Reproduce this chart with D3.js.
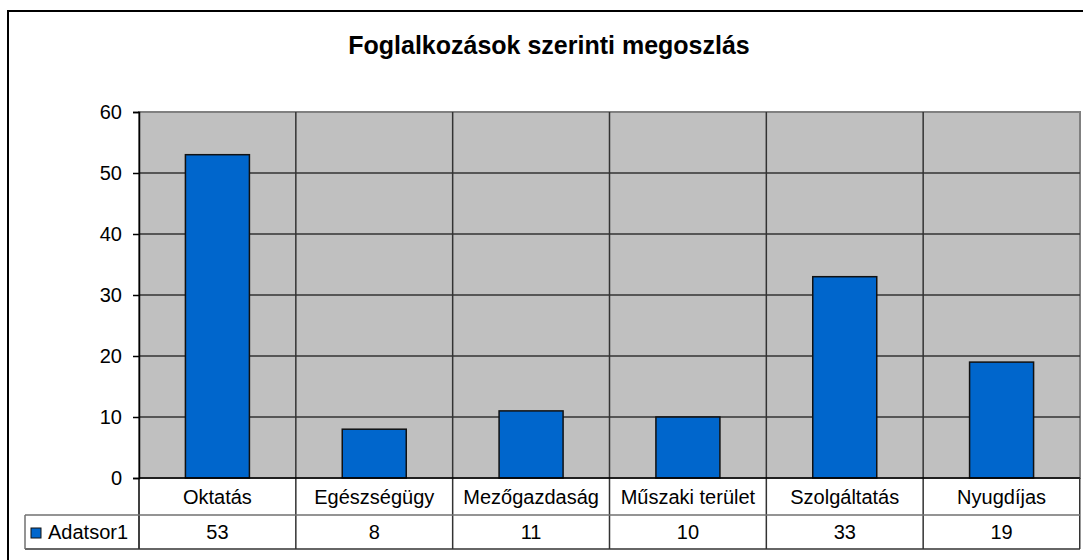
<!DOCTYPE html>
<html>
<head>
<meta charset="utf-8">
<script src="https://d3js.org/d3.v7.min.js"></script>
<style>
  body { margin: 0; background: #fff; }
  text { font-family: "Liberation Sans", Arial, sans-serif; }
</style>
</head>
<body>
<div id="chart"></div>
<script>
// data
var categories = ["Oktatás", "Egészségügy", "Mezőgazdaság", "Műszaki terület", "Szolgáltatás", "Nyugdíjas"];
var values = [53, 8, 11, 10, 33, 19];
var seriesName = "Adatsor1";
var yTicks = [0, 10, 20, 30, 40, 50, 60];

var W = 1083, H = 560;
var plot = {left: 139, top: 112, right: 1080, bottom: 478};
var row1 = 515, row2 = 549, tableLeft = 25;
var fs = "20px";

var svg = d3.select("#chart").append("svg")
    .attr("width", W)
    .attr("height", H);

// outer chart border (only top/left visible)
svg.append("rect")
    .attr("x", 8).attr("y", 11)
    .attr("width", W + 20).attr("height", H + 20)
    .attr("fill", "#fff")
    .attr("stroke", "#000")
    .attr("stroke-width", 2);

// title
svg.append("text")
    .attr("x", 549).attr("y", 54)
    .attr("text-anchor", "middle")
    .style("font-size", "25px")
    .style("font-weight", "bold")
    .text("Foglalkozások szerinti megoszlás");

var x = d3.scaleBand()
    .domain(categories)
    .range([plot.left, plot.right])
    .padding(0);

var y = d3.scaleLinear()
    .domain([0, 60])
    .range([plot.bottom, plot.top]);

// plot background
svg.append("rect")
    .attr("x", plot.left).attr("y", plot.top)
    .attr("width", plot.right - plot.left)
    .attr("height", plot.bottom - plot.top)
    .attr("fill", "#c0c0c0")
    .attr("stroke", "#808080")
    .attr("stroke-width", 2);

// horizontal gridlines
svg.selectAll(".hgrid")
    .data(yTicks.filter(function(d) { return d > 0 && d < 60; }))
    .enter().append("line")
    .attr("x1", plot.left).attr("x2", plot.right)
    .attr("y1", function(d) { return y(d); })
    .attr("y2", function(d) { return y(d); })
    .attr("stroke", "#333")
    .attr("stroke-width", 1.5);

// vertical gridlines (category boundaries), extending through the table
svg.selectAll(".vgrid")
    .data(categories.slice(1))
    .enter().append("line")
    .attr("x1", function(d) { return x(d); })
    .attr("x2", function(d) { return x(d); })
    .attr("y1", plot.top).attr("y2", row2)
    .attr("stroke", "#333")
    .attr("stroke-width", 1.5);

// bars
var barW = 64;
svg.selectAll(".bar")
    .data(values)
    .enter().append("rect")
    .attr("x", function(d, i) { return x(categories[i]) + x.bandwidth() / 2 - barW / 2; })
    .attr("y", function(d) { return y(d); })
    .attr("width", barW)
    .attr("height", function(d) { return y(0) - y(d); })
    .attr("fill", "#0066cc")
    .attr("stroke", "#111")
    .attr("stroke-width", 1.5);

// y axis
var yAxis = svg.append("g")
    .attr("transform", "translate(" + plot.left + ",0)")
    .call(d3.axisLeft(y).tickValues(yTicks).tickSize(6).tickPadding(11));
yAxis.select(".domain").attr("stroke", "#000").attr("stroke-width", 1.5);
yAxis.selectAll(".tick line").attr("stroke", "#000").attr("stroke-width", 1.5);
yAxis.selectAll(".tick text")
    .style("font-size", fs)
    .attr("fill", "#000");

// axis line continuing down through the table
svg.append("line")
    .attr("x1", plot.left).attr("x2", plot.left)
    .attr("y1", plot.bottom).attr("y2", row2)
    .attr("stroke", "#000").attr("stroke-width", 1.5);

// baseline
svg.append("line")
    .attr("x1", plot.left).attr("x2", plot.right)
    .attr("y1", y(0)).attr("y2", y(0))
    .attr("stroke", "#000").attr("stroke-width", 1.5);

// data table
svg.append("rect")
    .attr("x", plot.right - 1).attr("y", plot.bottom)
    .attr("width", 1.5).attr("height", row2 - plot.bottom)
    .attr("fill", "#333");
svg.append("line")
    .attr("x1", tableLeft).attr("x2", plot.right)
    .attr("y1", row1).attr("y2", row1)
    .attr("stroke", "#707070").attr("stroke-width", 1.5);
svg.append("line")
    .attr("x1", tableLeft).attr("x2", plot.right)
    .attr("y1", row2).attr("y2", row2)
    .attr("stroke", "#333").attr("stroke-width", 1.5);
svg.append("line")
    .attr("x1", tableLeft).attr("x2", tableLeft)
    .attr("y1", row1).attr("y2", row2)
    .attr("stroke", "#707070").attr("stroke-width", 1.5);

svg.selectAll(".catlabel")
    .data(categories)
    .enter().append("text")
    .attr("x", function(d) { return x(d) + x.bandwidth() / 2; })
    .attr("y", (plot.bottom + row1) / 2 + 7)
    .attr("text-anchor", "middle")
    .style("font-size", fs)
    .text(function(d) { return d; });

svg.selectAll(".vallabel")
    .data(values)
    .enter().append("text")
    .attr("x", function(d, i) { return x(categories[i]) + x.bandwidth() / 2; })
    .attr("y", (row1 + row2) / 2 + 7)
    .attr("text-anchor", "middle")
    .style("font-size", fs)
    .text(function(d) { return d; });

// legend key
svg.append("rect")
    .attr("x", 31).attr("y", 528)
    .attr("width", 10).attr("height", 10)
    .attr("fill", "#0066cc")
    .attr("stroke", "#111")
    .attr("stroke-width", 1);
svg.append("text")
    .attr("x", 48).attr("y", (row1 + row2) / 2 + 7)
    .style("font-size", fs)
    .text(seriesName);
</script>
</body>
</html>
